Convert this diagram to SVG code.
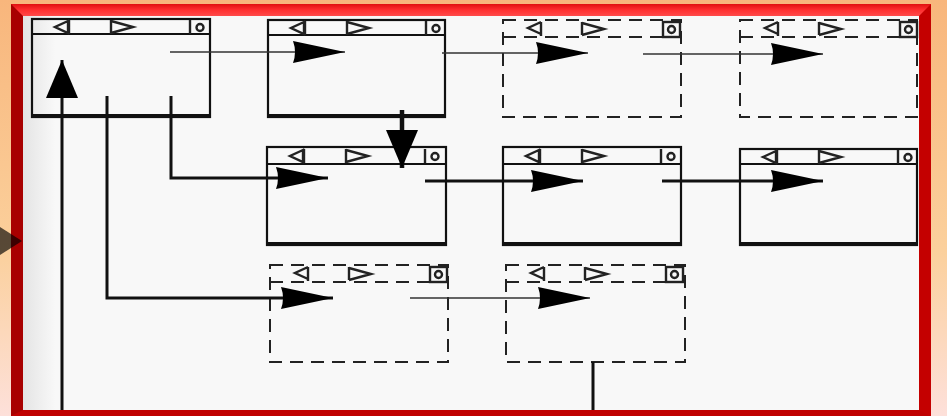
<svg xmlns="http://www.w3.org/2000/svg" width="947" height="416" viewBox="0 0 947 416">
<style>
.win{fill:none;stroke:#111;stroke-width:2.2}
.winb{stroke:#111;stroke-width:4}
.dash{fill:none;stroke:#222;stroke-width:2;stroke-dasharray:13 8}
.ico{fill:none;stroke:#222;stroke-width:2.4}
.thin{fill:none;stroke:#333;stroke-width:1.6}
.thick{fill:none;stroke:#111;stroke-width:3}
.vthick{fill:none;stroke:#111;stroke-width:4.5}
</style>
<defs>
<linearGradient id="bg" x1="0" y1="0" x2="0" y2="1">
<stop offset="0" stop-color="#f8b67c"/>
<stop offset="0.6" stop-color="#fbd09c"/>
<stop offset="1" stop-color="#fde0da"/>
</linearGradient>
<linearGradient id="panelShade" x1="0" y1="0" x2="1" y2="0">
<stop offset="0" stop-color="#e4e4e4"/>
<stop offset="1" stop-color="#f8f8f8"/>
</linearGradient>
<linearGradient id="topRed" x1="0" y1="0" x2="0" y2="1">
<stop offset="0" stop-color="#e01010"/>
<stop offset="0.5" stop-color="#ff3030"/>
<stop offset="1" stop-color="#ff4a4a"/>
</linearGradient>
<marker id="arr" viewBox="0 0 52 22" markerWidth="52" markerHeight="22" refX="52" refY="11" markerUnits="userSpaceOnUse" orient="auto">
<path d="M0,0 L52,11 L0,22 Q4,11 0,0 Z" fill="#000"/>
</marker>
<marker id="arrBig" viewBox="0 0 38 32" markerWidth="38" markerHeight="32" refX="38" refY="16" markerUnits="userSpaceOnUse" orient="auto">
<path d="M0,0 L38,16 L0,32 Z" fill="#000"/>
</marker>
<g id="titleIcons">
<path class="ico" d="M36,2 L23,8 L36,14 Z M37,1 V15"/>
<path class="ico" d="M79,1 V15 M79,2 L101,8 L79,14"/>
<path class="ico" d="M158,1 V15"/>
<circle class="ico" cx="168" cy="8.5" r="3.5"/>
</g>
<g id="titleIconsDash">
<path class="ico" d="M38,2 L25,8 L38,14 M38,2 V16"/>
<path class="ico" d="M79,2 V15 M79,3 L101,9 L79,15"/>
<rect class="ico" x="160" y="2" width="17" height="15"/>
<circle class="ico" cx="168.5" cy="9.5" r="3.5"/>
</g>
</defs>

<!-- background and panel -->
<rect x="0" y="0" width="947" height="416" fill="url(#bg)"/>
<rect x="23" y="16" width="896" height="394" fill="#f8f8f8"/>
<rect x="23" y="16" width="32" height="394" fill="url(#panelShade)"/>

<!-- nodes -->
<g id="nodeA" transform="translate(32,19)">
<rect class="win" x="0" y="0" width="178" height="98"/>
<line class="win" x1="0" y1="15" x2="178" y2="15"/>
<line class="winb" x1="0" y1="97" x2="178" y2="97"/>
<use href="#titleIcons"/>
</g>
<g id="nodeB" transform="translate(268,20)">
<rect class="win" x="0" y="0" width="177" height="97"/>
<line class="win" x1="0" y1="15" x2="177" y2="15"/>
<line class="winb" x1="0" y1="96" x2="177" y2="96"/>
<use href="#titleIcons"/>
</g>
<g id="nodeC" transform="translate(503,20)">
<rect class="dash" x="0" y="0" width="178" height="97"/>
<line class="dash" x1="0" y1="17" x2="160" y2="17"/>
<use href="#titleIconsDash"/>
</g>
<g id="nodeD" transform="translate(740,20)">
<rect class="dash" x="0" y="0" width="177" height="97"/>
<line class="dash" x1="0" y1="17" x2="160" y2="17"/>
<use href="#titleIconsDash"/>
</g>
<g id="nodeE" transform="translate(267,147)">
<rect class="win" x="0" y="0" width="179" height="98"/>
<line class="win" x1="0" y1="17" x2="179" y2="17"/>
<line class="winb" x1="0" y1="97" x2="179" y2="97"/>
<use href="#titleIcons" transform="translate(0,1)"/>
</g>
<g id="nodeF" transform="translate(503,147)">
<rect class="win" x="0" y="0" width="178" height="98"/>
<line class="win" x1="0" y1="17" x2="178" y2="17"/>
<line class="winb" x1="0" y1="97" x2="178" y2="97"/>
<use href="#titleIcons" transform="translate(0,1)"/>
</g>
<g id="nodeG" transform="translate(740,149)">
<rect class="win" x="0" y="0" width="177" height="96"/>
<line class="win" x1="0" y1="15" x2="177" y2="15"/>
<line class="winb" x1="0" y1="95" x2="177" y2="95"/>
<use href="#titleIcons"/>
</g>
<g id="nodeH" transform="translate(270,265)">
<rect class="dash" x="0" y="0" width="178" height="97"/>
<line class="dash" x1="0" y1="17" x2="160" y2="17"/>
<use href="#titleIconsDash"/>
</g>
<g id="nodeI" transform="translate(506,265)">
<rect class="dash" x="0" y="0" width="179" height="97"/>
<line class="dash" x1="0" y1="17" x2="160" y2="17"/>
<use href="#titleIconsDash"/>
</g>

<!-- connectors -->
<g id="connectors">
<path class="thin" d="M170,52 H345" marker-end="url(#arr)"/>
<path class="thin" d="M442,53 H588" marker-end="url(#arr)"/>
<path class="thin" d="M643,54 H823" marker-end="url(#arr)"/>
<path class="vthick" d="M402,110 V168" marker-end="url(#arrBig)"/>
<path class="thick" d="M171,96 V178 H328" marker-end="url(#arr)"/>
<path class="thick" d="M425,181 H583" marker-end="url(#arr)"/>
<path class="thick" d="M662,181 H823" marker-end="url(#arr)"/>
<path class="thick" d="M107,96 V298 H333" marker-end="url(#arr)"/>
<path class="thin" d="M410,298 H590" marker-end="url(#arr)"/>
<path class="thick" d="M593,362 V413 H62 V60" marker-end="url(#arrBig)"/>
</g>

<!-- frame overlay -->
<path fill-rule="evenodd" fill="#c00000" d="M11,4 H931 V416 H11 Z M23,16 V410 H919 V16 Z"/>
<rect x="11" y="4" width="920" height="12" fill="url(#topRed)"/>
<path d="M11,4 L23,16 L23,410 L11,416 Z" fill="#a80000"/>
<path d="M931,4 L919,16 L919,410 L931,416 Z" fill="#c40000"/>

<!-- left edge pointer -->
<path d="M0,227 L22,241 L0,255 Z" fill="#000" opacity="0.65"/>
</svg>
